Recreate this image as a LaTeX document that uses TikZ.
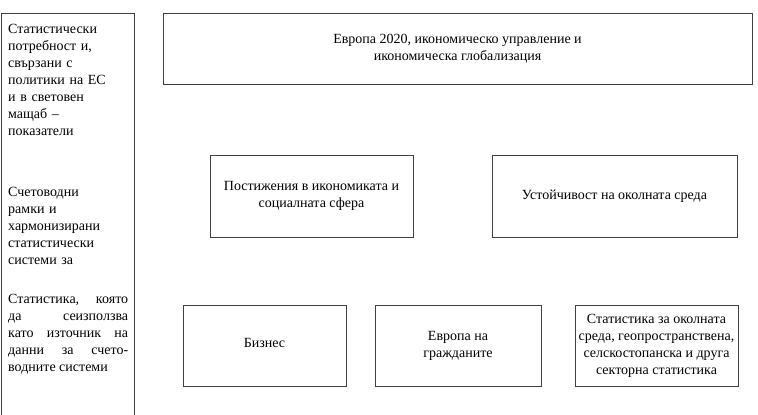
\documentclass[tikz,border=0pt]{standalone}
\usepackage{fontspec}
\setmainfont{Liberation Serif}
\usetikzlibrary{calc,positioning}
\tikzstyle{entry}=[draw=black!75, line width=0.8pt, align=center, inner sep=2pt]
\tikzstyle{goal}=[entry, minimum width=589pt, minimum height=71pt]
\tikzstyle{area}=[entry, minimum height=82pt]
\tikzstyle{sector}=[entry, minimum width=163pt, minimum height=81pt]
\tikzstyle{side}=[anchor=north west, text width=120pt, inner sep=0pt]

\begin{document}
\begin{tikzpicture}[x=1pt, y=-1pt, font=\fontsize{14}{17}\selectfont]
\clip (0,0) rectangle (758,415);

\node (panel) [entry, anchor=north west, minimum width=133pt, minimum height=430pt] at (1,13) {};
\node (needs) [side, align=left] at (8,24) {Статистически\\потребност и,\\свързани с\\политики на ЕС\\и в световен\\мащаб –\\показатели};
\node (frames) [side, align=left] at (8,187) {Счетоводни\\рамки и\\хармонизирани\\статистически\\системи за};
\node (sources) [side, align=justify] at (8,294) {Статистика, която\linebreak да сеизползва\linebreak като източник на\linebreak данни за счето-\linebreak водните системи};

\node (europe) [goal] at (457.5,48.5) {Европа 2020, икономическо управление и\\икономическа глобализация};

\node (economy) [area, minimum width=203pt] at (311.5,196) {Постижения в икономиката и\\социалната сфера};
\node (sustain) [area, minimum width=245pt] at (614.5,196) {Устойчивост на околната среда};

\node (business) [sector] at (264.5,345.5) {\raisebox{6pt}{Бизнес}};
\node (citizens) [sector, minimum width=166pt] at (458,345.5) {Европа на\\гражданите};
\node (envstat) [sector] at (656.5,346) {Статистика за околната\\среда, геопространствена,\\селскостопанска и друга\\секторна статистика};

\end{tikzpicture}
\end{document}
